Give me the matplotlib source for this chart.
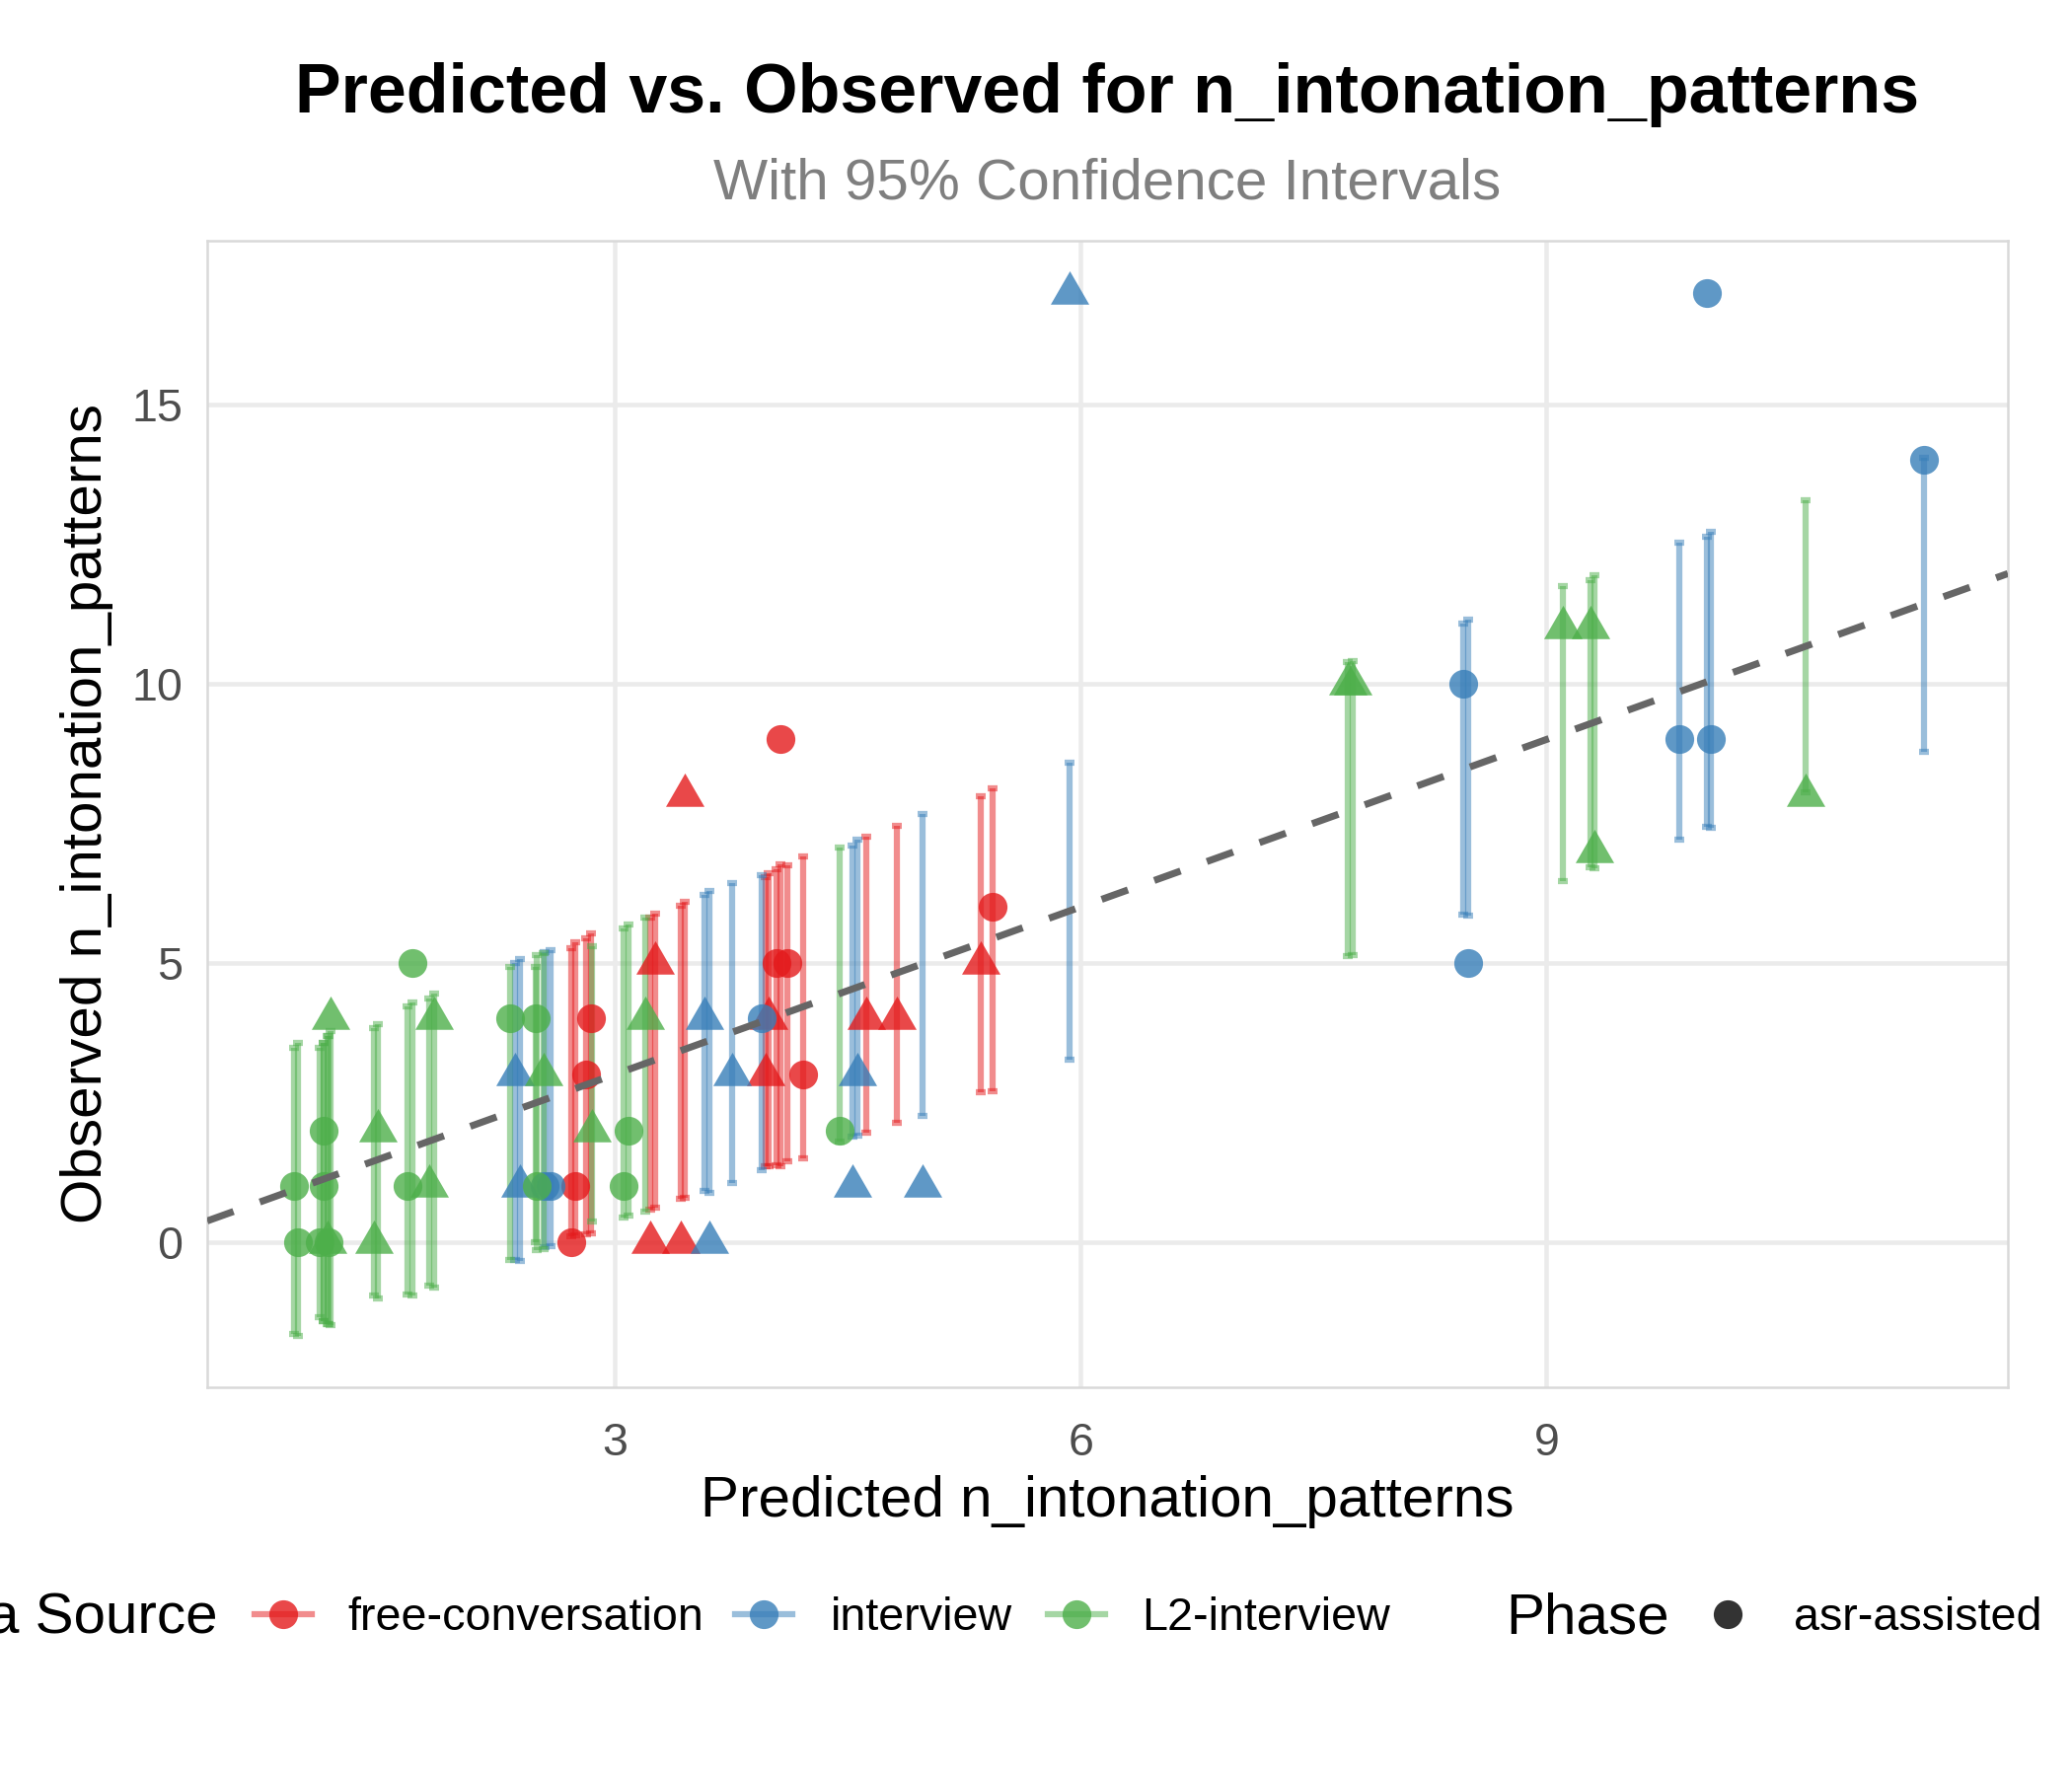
import matplotlib
matplotlib.use("Agg")
import matplotlib.pyplot as plt
from matplotlib.lines import Line2D
import numpy as np

plt.rcParams['font.family'] = ['Liberation Sans', 'DejaVu Sans']

# predicted vs observed, with 95% CI (lo, hi)
# free-conversation
fc_x = [2.72, 2.75, 2.82, 2.85, 3.23, 3.26, 3.43, 3.455, 3.97, 3.995,
        4.04, 4.07, 4.115, 4.215, 4.62, 4.82, 5.36, 5.435]
fc_y = [0, 1, 3, 4, 0, 5, 0, 8, 3, 4, 5, 9, 5, 3, 4, 4, 5, 6]
fc_lo = [0.10, 0.12, 0.14, 0.15, 0.58, 0.61, 0.78, 0.80, 1.35, 1.35,
         1.38, 1.36, 1.45, 1.50, 1.96, 2.13, 2.69, 2.70]
fc_hi = [5.27, 5.37, 5.44, 5.52, 5.81, 5.88, 6.02, 6.10, 6.54, 6.61,
         6.68, 6.76, 6.75, 6.90, 7.25, 7.46, 7.99, 8.12]
fc_tri = [0, 0, 0, 0, 1, 1, 1, 1, 1, 1, 0, 0, 0, 0, 1, 1, 1, 0]

# interview
iv_x = [2.36, 2.39, 2.55, 2.59, 3.58, 3.61, 3.756, 3.95, 4.535, 4.565,
        4.98, 5.93, 8.465, 8.495, 9.853, 10.03, 10.055, 11.43]
iv_y = [3, 1, 1, 1, 4, 0, 3, 4, 1, 3, 1, 17, 10, 5, 9, 17, 9, 14]
iv_lo = [-0.32, -0.33, -0.10, -0.08, 0.91, 0.88, 1.05, 1.28, 1.89, 1.90,
         2.25, 3.26, 5.86, 5.84, 7.20, 7.43, 7.42, 8.77]
iv_hi = [4.99, 5.07, 5.20, 5.22, 6.22, 6.29, 6.43, 6.57, 7.10, 7.20,
         7.66, 8.59, 11.07, 11.15, 12.52, 12.63, 12.71, 14.05]
iv_tri = [1, 1, 0, 0, 1, 1, 1, 0, 1, 1, 1, 1, 0, 0, 0, 0, 0, 0]

# L2-interview
l2_x = [0.935, 0.965, 1.10, 1.13, 1.13, 1.157, 1.15, 1.175, 1.45, 1.48,
        1.665, 1.70, 1.81, 1.84, 2.33, 2.49, 2.50, 2.545, 2.855, 3.06,
        3.09, 3.20, 4.45, 7.72, 7.75, 9.107, 9.285, 9.31, 10.67]
l2_y = [1, 0, 0, 2, 1, 0, 0, 4, 0, 2,
        1, 5, 1, 4, 4, 4, 1, 3, 2, 1,
        2, 4, 2, 10, 10, 11, 11, 7, 8]
l2_lo = [-1.65, -1.69, -1.35, -1.41, -1.41, -1.47, -1.47, -1.49, -0.96, -1.01,
         -0.94, -0.96, -0.78, -0.81, -0.32, 0.00, -0.14, -0.12, 0.37, 0.44,
         0.48, 0.54, 1.80, 5.12, 5.14, 6.47, 6.71, 6.69, 8.05]
l2_hi = [3.48, 3.56, 3.48, 3.56, 3.56, 3.69, 3.69, 3.78, 3.83, 3.91,
         4.22, 4.29, 4.36, 4.45, 4.93, 4.93, 5.14, 5.17, 5.29, 5.61,
         5.69, 5.81, 7.06, 10.39, 10.41, 11.75, 11.86, 11.94, 13.29]
l2_tri = [0, 0, 0, 0, 0, 0, 1, 1, 1, 1,
          0, 0, 1, 1, 0, 0, 0, 1, 1, 0,
          0, 1, 0, 1, 1, 1, 1, 1, 1]

sources = ["free-conversation", "interview", "L2-interview"]
colors = ["#E41A1C", "#377EB8", "#4DAF4A"]
groups = [(fc_x, fc_y, fc_lo, fc_hi, fc_tri),
          (iv_x, iv_y, iv_lo, iv_hi, iv_tri),
          (l2_x, l2_y, l2_lo, l2_hi, l2_tri)]

tri_marker = [(0, 1.155), (-1, -0.577), (1, -0.577), (0, 1.155)]

W, H = 2100, 1800
fig = plt.figure(figsize=(7, 6), dpi=300)
ax = fig.add_axes([210 / W, 1 - 1406 / H, 1825 / W, 1162 / H])

for (x, y, lo, hi, tri), col in zip(groups, colors):
    x = np.array(x); y = np.array(y); lo = np.array(lo); hi = np.array(hi)
    tri = np.array(tri, dtype=bool)
    mid = (lo + hi) / 2
    # CI is around the prediction, not the observation
    ax.errorbar(x, mid, yerr=[mid - lo, hi - mid], fmt='none', ecolor=col,
                elinewidth=1.5, capsize=1.2, capthick=1.5, alpha=0.5, zorder=2)
    ax.scatter(x[~tri], y[~tri], s=49, marker='o', color=col, alpha=0.8,
               linewidths=0, zorder=3)
    ax.scatter(x[tri], y[tri], s=117, marker=tri_marker, color=col, alpha=0.8,
               linewidths=0, zorder=3)

ax.set_xlim(0.378, 11.97)
ax.set_ylim(-2.6, 17.93)
ax.axline((0, 0), slope=1, color='#666666', lw=1.7, ls=(0, (4, 4)), zorder=4)

ax.set_xticks([3, 6, 9])
ax.set_yticks([0, 5, 10, 15])
ax.tick_params(length=0, labelsize=11.2, labelcolor='#4D4D4D')
ax.tick_params(axis='x', pad=8.5)
ax.tick_params(axis='y', pad=6)
ax.grid(color='#EBEBEB', linewidth=1.1)
ax.set_axisbelow(True)
for sp in ax.spines.values():
    sp.set_color('#D9D9D9')
    sp.set_linewidth(0.6)

cx = (210 + 2035) / 2 / W
fig.text(cx, 1 - 114 / H, "Predicted vs. Observed for n_intonation_patterns",
         ha='center', va='baseline', fontsize=16.8, fontweight='bold')
fig.text(cx, 1 - 201 / H, "With 95% Confidence Intervals",
         ha='center', va='baseline', fontsize=14, color='#7F7F7F')
fig.text(cx, 1 - 1537 / H, "Predicted n_intonation_patterns",
         ha='center', va='baseline', fontsize=14)
fig.text(88 / W, 1 - 825 / H, "Observed n_intonation_patterns",
         ha='center', va='center', rotation=90, fontsize=14)

# legend along the bottom (runs off both edges like the original)
ly = 1 - 1636 / H
lb = 1 - 1652 / H
fig.text(221 / W, 1 - 1656 / H, "Data Source", ha='right', va='baseline', fontsize=14)
key_x = [287, 774, 1091]
lab_x = [352, 842, 1157]
for src, col, kx, tx in zip(sources, colors, key_x, lab_x):
    fig.add_artist(Line2D([(kx - 29) / W, (kx + 29) / W], [ly, ly], color=col,
                          lw=1.5, alpha=0.5, transform=fig.transFigure))
    fig.add_artist(Line2D([kx / W], [ly], marker='o', ms=7, color=col, alpha=0.8,
                          mew=0, ls='none', transform=fig.transFigure))
    fig.text(tx / W, lb, src, ha='left', va='baseline', fontsize=11.2)
fig.text(1526 / W, 1 - 1656 / H, "Phase", ha='left', va='baseline', fontsize=14)
fig.add_artist(Line2D([1751 / W], [ly], marker='o', ms=7, color='black', alpha=0.8,
                      mew=0, ls='none', transform=fig.transFigure))
fig.text(1818 / W, lb, "asr-assisted", ha='left', va='baseline', fontsize=11.2)

fig.savefig("out.png", dpi=300)
